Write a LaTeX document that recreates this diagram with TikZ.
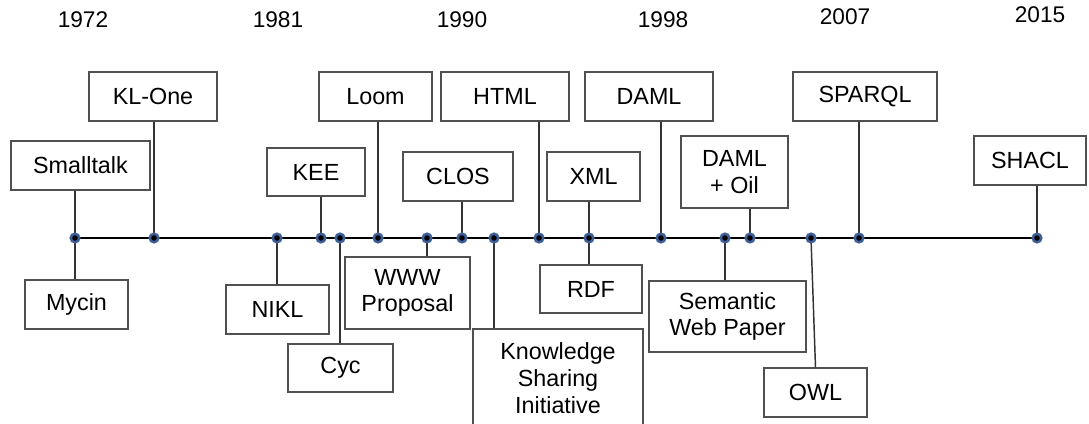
\documentclass[tikz,border=0pt]{standalone}
\usepackage{fontspec}
\setmainfont{Liberation Sans}
\usetikzlibrary{positioning}

\definecolor{dotblue}{HTML}{3F5F98}
\definecolor{boxgray}{HTML}{505050}

\begin{document}
\begin{tikzpicture}[x=0.75pt, y=-0.75pt,
    evbox/.style={draw=boxgray, line width=1.1pt, fill=white,
      align=center, inner sep=0pt,
      font=\fontsize{17.5}{20}\selectfont},
    boxsize/.style 2 args={minimum width=#1*0.75pt, minimum height=#2*0.75pt},
    evdot/.style={circle, fill=black, draw=dotblue, line width=1.9pt,
      minimum size=6.4pt, inner sep=0pt},
    stem/.style={draw=black!80, line width=1.1pt},
    yearlbl/.style={font=\fontsize{17}{20}\selectfont, inner sep=0pt}
  ]
  \useasboundingbox (0,0) rectangle (1089,424);

  % years
  \node[yearlbl] (y1972) at (83,20) {1972};
  \node[yearlbl] (y1981) at (278,20) {1981};
  \node[yearlbl] (y1990) at (462,20) {1990};
  \node[yearlbl] (y1998) at (663,20) {1998};
  \node[yearlbl] (y2007) at (845,17) {2007};
  \node[yearlbl] (y2015) at (1040,15) {2015};

  % time axis
  \coordinate (tstart) at (75,238);
  \coordinate (tend) at (1037,238);
  \draw[line width=1.6pt] (tstart) -- (tend);

  % events above the axis
  \node[evbox, boxsize={139}{49}] (smalltalk) at (80.5,165.5) {Smalltalk};
  \node[evbox, boxsize={128}{49}] (klone) at (153,96.5) {KL-One};
  \node[evbox, boxsize={98}{48}] (kee) at (316,172) {KEE};
  \node[evbox, boxsize={113}{49}] (loom) at (375.5,96.5) {Loom};
  \node[evbox, boxsize={110}{49}] (clos) at (458,176.5) {CLOS};
  \node[evbox, boxsize={128}{49}] (html) at (505,96.5) {HTML};
  \node[evbox, boxsize={93}{49}] (xml) at (593.5,176.5) {XML};
  \node[evbox, boxsize={128}{49}] (daml) at (649,96.5) {DAML};
  \node[evbox, boxsize={107}{72}] (damloil) at (734.5,172) {DAML\\+ Oil};
  \node[evbox, boxsize={144}{49}] (sparql) at (865,96.5) {SPARQL};
  \node[evbox, boxsize={112}{49}] (shacl) at (1030,160.5) {SHACL};

  % events below the axis
  \node[evbox, boxsize={103}{49}] (mycin) at (76.5,304.5) {Mycin};
  \node[evbox, boxsize={103}{49}] (nikl) at (277.5,309.5) {NIKL};
  \node[evbox, boxsize={105}{48}] (cyc) at (340.5,368) {Cyc};
  \node[evbox, boxsize={125}{72}] (www) at (407.5,293) {WWW\\Proposal};
  \node[evbox, boxsize={170}{98}] (ksi) at (558,378) {Knowledge\\Sharing\\Initiative};
  \node[evbox, boxsize={102}{48}] (rdf) at (591,289) {RDF};
  \node[evbox, boxsize={157}{71}] (swp) at (727.5,316.5) {Semantic\\Web Paper};
  \node[evbox, boxsize={103}{49}] (owl) at (815.5,392.5) {OWL};

  % points on the axis
  \foreach \name/\xpos in {d1/75, d2/154, d3/277, d4/321, d5/340, d6/378,
      d7/427, d8/462, d9/494, d10/539, d11/589, d12/661, d13/725,
      d14/750, d15/811, d16/859, d17/1037}
    \coordinate (\name) at (\xpos,238);

  % stems
  \draw[stem] (d1 |- smalltalk.south) -- (d1);
  \draw[stem] (d1) -- (d1 |- mycin.north);
  \draw[stem] (d2 |- klone.south) -- (d2);
  \draw[stem] (d3) -- (d3 |- nikl.north);
  \draw[stem] (d4 |- kee.south) -- (d4);
  \draw[stem] (d5) -- (d5 |- cyc.north);
  \draw[stem] (d6 |- loom.south) -- (d6);
  \draw[stem] (d7) -- (d7 |- www.north);
  \draw[stem] (d8 |- clos.south) -- (d8);
  \draw[stem] (d9) -- (d9 |- ksi.north);
  \draw[stem] (d10 |- html.south) -- (d10);
  \draw[stem] (d11 |- xml.south) -- (d11);
  \draw[stem] (d11) -- (d11 |- rdf.north);
  \draw[stem] (d12 |- daml.south) -- (d12);
  \draw[stem] (d13) -- (d13 |- swp.north);
  \draw[stem] (d14 |- damloil.south) -- (d14);
  \draw[stem] (d15) -- (owl.north);
  \draw[stem] (d16 |- sparql.south) -- (d16);
  \draw[stem] (d17 |- shacl.south) -- (d17);

  \foreach \name in {d1,d2,d3,d4,d5,d6,d7,d8,d9,d10,d11,d12,d13,d14,d15,d16,d17}
    \node[evdot] at (\name) {};
\end{tikzpicture}
\end{document}
